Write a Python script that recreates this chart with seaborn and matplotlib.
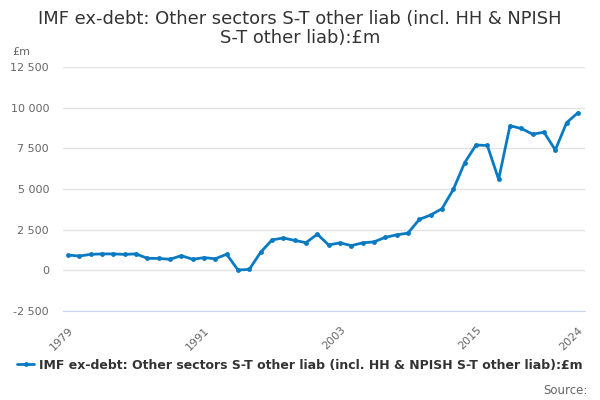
import numpy as np
import pandas as pd
import matplotlib
matplotlib.use("Agg")
import matplotlib.pyplot as plt
import seaborn as sns
from matplotlib.ticker import FuncFormatter, MultipleLocator

# data (£m)
years = list(range(1979, 2025))
values = [940, 880, 980, 1010, 1010, 980, 1010, 740, 730, 680, 900, 680,
          780, 710, 990, 20, 60, 1110, 1870, 1990, 1840, 1700, 2220, 1560,
          1690, 1520, 1690, 1750, 2030, 2180, 2290, 3130, 3400, 3790, 4970,
          6610, 7700, 7680, 5590, 8890, 8720, 8370, 8490, 7400, 9080, 9690]
label_years = [1979, 1991, 2003, 2015, 2024]
series_name = "IMF ex-debt: Other sectors S-T other liab (incl. HH & NPISH S-T other liab):£m"

df = pd.DataFrame({"year": years, "value": values})

sns.set_style("white")
plt.rcParams["font.family"] = ["DejaVu Sans"]

fig = plt.figure(figsize=(6, 4), dpi=100)
ax = fig.add_axes([0.105, 0.2225, 0.87, 0.61])

blue = "#0a7bc2"
sns.lineplot(data=df, x="year", y="value", ax=ax, color=blue, linewidth=2,
             marker="o", markersize=3.5, markeredgewidth=0, label=series_name,
             legend=False)

ax.set_ylim(-2500, 12500)
ax.set_xlim(1978.56, 2024.62)
ax.yaxis.set_major_locator(MultipleLocator(2500))
ax.yaxis.set_major_formatter(FuncFormatter(lambda v, p: f"{int(v):,}".replace(",", " ")))
ax.grid(axis="y", color="#e3e3e3", linewidth=1)
ax.set_axisbelow(True)

ax.set_xticks(range(1979, 2025, 3))
ax.set_xticklabels([str(y) if y in label_years else "" for y in range(1979, 2025, 3)],
                   rotation=45, ha="right", rotation_mode="anchor")
ax.tick_params(axis="x", length=8, color="#ccd6eb", labelsize=8, labelcolor="#666666", pad=2)
ax.tick_params(axis="y", length=0, labelsize=8, labelcolor="#666666", pad=10)

for s in ["top", "right", "left"]:
    ax.spines[s].set_visible(False)
ax.spines["bottom"].set_color("#ccd6eb")
ax.set_xlabel("")
ax.set_ylabel("")

fig.text(0.5, 0.975, "IMF ex-debt: Other sectors S-T other liab (incl. HH & NPISH\nS-T other liab):£m",
         ha="center", va="top", fontsize=12.9, color="#333333", linespacing=1.1)
fig.text(0.02, 0.87, "£m", ha="left", va="center", fontsize=8, color="#666666")

handles, labels = ax.get_legend_handles_labels()
fig.legend(handles, labels, loc="center", bbox_to_anchor=(0.5, 0.087), frameon=False,
           prop={"weight": "bold", "size": 9}, handlelength=1.4, handletextpad=0.4,
           labelcolor="#333333")
fig.text(0.98, 0.025, "Source:", ha="right", va="center", fontsize=8.5, color="#666666")

fig.savefig("out.png", dpi=100)
